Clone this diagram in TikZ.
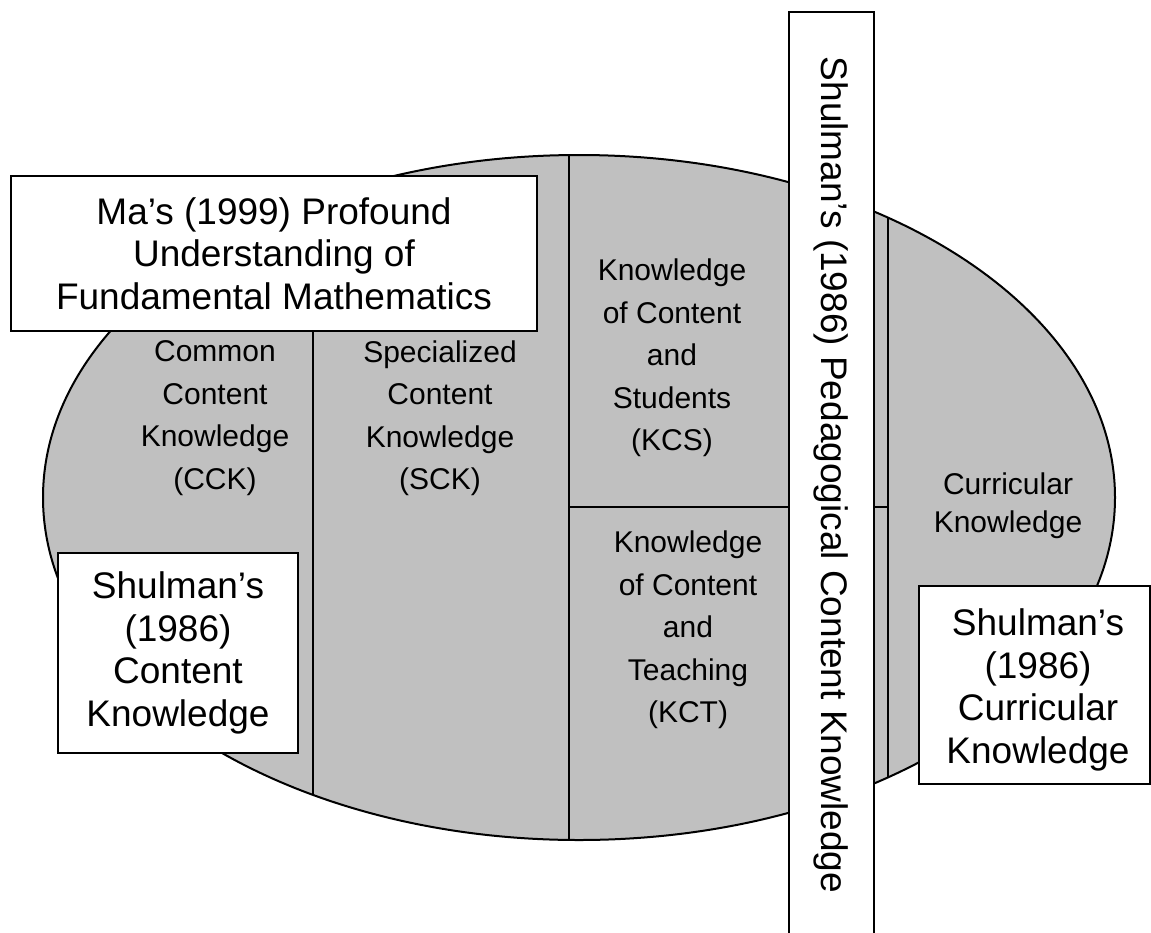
\documentclass[tikz,border=0pt]{standalone}
\usepackage{fontspec}
\setmainfont{Liberation Sans}
\definecolor{ellgray}{HTML}{C0C0C0}
\begin{document}
\begin{tikzpicture}[x=1pt,y=-1pt,line width=2pt,
  box/.style={draw=black,fill=white,line width=2pt,inner sep=0pt,align=center},
  bigtxt/.style={font=\fontsize{37}{42.5}\selectfont,align=center},
  coltxt/.style={font=\fontsize{30}{42.5}\selectfont,align=center,inner sep=0pt}]
\useasboundingbox (0,0) rectangle (1151,932);
% ellipse body
\fill[ellgray] (579,497.5) ellipse [x radius=536, y radius=342.5];
\begin{scope}
  \clip (579,497.5) ellipse [x radius=536, y radius=342.5];
  \draw (313,100) -- (313,900);
  \draw (569,100) -- (569,900);
  \draw (888,100) -- (888,900);
  \draw (569,507) -- (888,507);
\end{scope}
\draw (579,497.5) ellipse [x radius=536, y radius=342.5];
% column labels
\node[coltxt] (cck) at (215,418) {Common\\Content\\Knowledge\\(CCK)};
\node[coltxt] (sck) at (440,418) {Specialized\\Content\\Knowledge\\(SCK)};
\node[coltxt] (kcs) at (672,358) {Knowledge\\of Content\\and\\Students\\(KCS)};
\node[coltxt] (kct) at (688,630) {Knowledge\\of Content\\and\\Teaching\\(KCT)};
\node[coltxt,font=\fontsize{30}{38}\selectfont] (curk) at (1008,506) {Curricular\\Knowledge};
% white boxes
\node[box,bigtxt,minimum width=526pt,minimum height=155pt] (ma) at (274,253.5)
  {Ma’s (1999) Profound\\Understanding of\\Fundamental Mathematics};
\node[box,bigtxt,minimum width=240pt,minimum height=200pt] (shck) at (178,653)
  {Shulman’s\\(1986)\\Content\\Knowledge};
\node[box,minimum width=231pt,minimum height=198pt] (shcur) at (1034.5,685) {};
\node[bigtxt] (shcurtext) at (1038,690) {Shulman’s\\(1986)\\Curricular\\Knowledge};
\node[box,minimum width=85pt,minimum height=940pt] (pck) at (831.5,482) {};
\node[bigtxt,rotate=-90] (pcktext) at (831.5,475) {Shulman’s (1986) Pedagogical Content Knowledge};
\end{tikzpicture}
\end{document}
